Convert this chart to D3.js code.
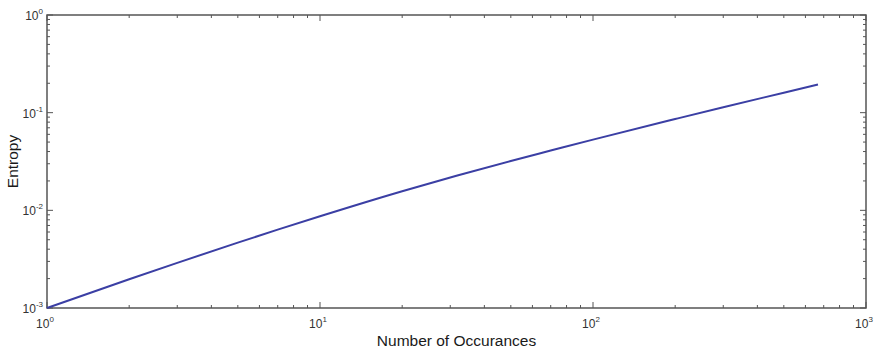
<!DOCTYPE html>
<html>
<head>
<meta charset="utf-8">
<script src="https://cdn.jsdelivr.net/npm/d3@7"></script>
<style>
  html, body { margin: 0; padding: 0; background: #fff; }
  svg { display: block; font-family: "Liberation Sans", Arial, sans-serif; }
</style>
</head>
<body>
<svg id="chart" width="874" height="351"></svg>
<script>
// Occurrence counts and their entropy values
const occurrences = [1, 2, 3, 5, 7, 10, 20, 31.6, 50, 70, 100, 200, 300, 500, 667];
const entropy = [0.001, 0.00197, 0.0029, 0.00467, 0.00634, 0.0087, 0.0157, 0.0226, 0.032, 0.0409, 0.053, 0.0861, 0.1138, 0.160, 0.194];

const xDomain = [1, 1000];
const yDomain = [0.001, 1];
const xMajorExponents = [0, 1, 2, 3];
const yMajorExponents = [-3, -2, -1, 0];
const xLabel = "Number of Occurances";
const yLabel = "Entropy";

const svg = d3.select("#chart");
const m = { left: 47, right: 866, top: 15, bottom: 308 };

const x = d3.scaleLog().domain(xDomain).range([m.left, m.right]);
const y = d3.scaleLog().domain(yDomain).range([m.bottom, m.top]);

const axisColor = "#555";
const textColor = "#333";

// Minor and major tick positions for a log decade range
function logTicks(domain) {
  const lo = Math.round(Math.log10(domain[0])), hi = Math.round(Math.log10(domain[1]));
  const major = [], minor = [];
  for (let e = lo; e <= hi; e++) {
    major.push(Math.pow(10, e));
    if (e < hi) for (let k = 2; k <= 9; k++) minor.push(k * Math.pow(10, e));
  }
  return { major, minor };
}

const xt = logTicks(xDomain), yt = logTicks(yDomain);
const majorLen = 6, minorLen = 3;

const g = svg.append("g");

// inward ticks on all four sides
function drawTicks(vals, len) {
  vals.forEach(v => {
    const px = x(v);
    g.append("line").attr("x1", px).attr("x2", px).attr("y1", m.bottom).attr("y2", m.bottom - len);
    g.append("line").attr("x1", px).attr("x2", px).attr("y1", m.top).attr("y2", m.top + len);
  });
}
function drawYTicks(vals, len) {
  vals.forEach(v => {
    const py = y(v);
    g.append("line").attr("y1", py).attr("y2", py).attr("x1", m.left).attr("x2", m.left + len);
    g.append("line").attr("y1", py).attr("y2", py).attr("x1", m.right).attr("x2", m.right - len);
  });
}
drawTicks(xt.major, majorLen);
drawTicks(xt.minor, minorLen);
drawYTicks(yt.major, majorLen);
drawYTicks(yt.minor, minorLen);
g.selectAll("line").attr("stroke", axisColor).attr("stroke-width", 1);

// frame
svg.append("rect")
  .attr("x", m.left).attr("y", m.top)
  .attr("width", m.right - m.left).attr("height", m.bottom - m.top)
  .attr("fill", "none").attr("stroke", axisColor).attr("stroke-width", 1.5);

// data line
const line = d3.line()
  .x((d, i) => x(occurrences[i]))
  .y((d, i) => y(entropy[i]))
  .curve(d3.curveMonotoneX);

svg.append("path")
  .datum(entropy)
  .attr("d", line)
  .attr("fill", "none")
  .attr("stroke", "#3b3fa4")
  .attr("stroke-width", 2);

// tick labels with superscript exponents
function powerLabel(sel, exp) {
  sel.append("tspan").text("10");
  sel.append("tspan").attr("dy", -6).attr("font-size", 8).text(exp);
}

xMajorExponents.forEach(e => {
  const t = svg.append("text")
    .attr("x", x(Math.pow(10, e)) - 2)
    .attr("y", m.bottom + 20)
    .attr("text-anchor", "middle")
    .attr("font-size", 12)
    .attr("fill", textColor);
  powerLabel(t, e);
});

yMajorExponents.forEach(e => {
  const t = svg.append("text")
    .attr("x", m.left - 4)
    .attr("y", y(Math.pow(10, e)) + 5)
    .attr("text-anchor", "end")
    .attr("font-size", 12)
    .attr("fill", textColor);
  powerLabel(t, e);
});

// axis titles
svg.append("text")
  .attr("x", (m.left + m.right) / 2)
  .attr("y", 346)
  .attr("text-anchor", "middle")
  .attr("font-size", 15.5)
  .attr("fill", "#1a1a1a")
  .text(xLabel);

svg.append("text")
  .attr("transform", `translate(18, ${(m.top + m.bottom) / 2}) rotate(-90)`)
  .attr("text-anchor", "middle")
  .attr("font-size", 15.5)
  .attr("fill", "#1a1a1a")
  .text(yLabel);
</script>
</body>
</html>
